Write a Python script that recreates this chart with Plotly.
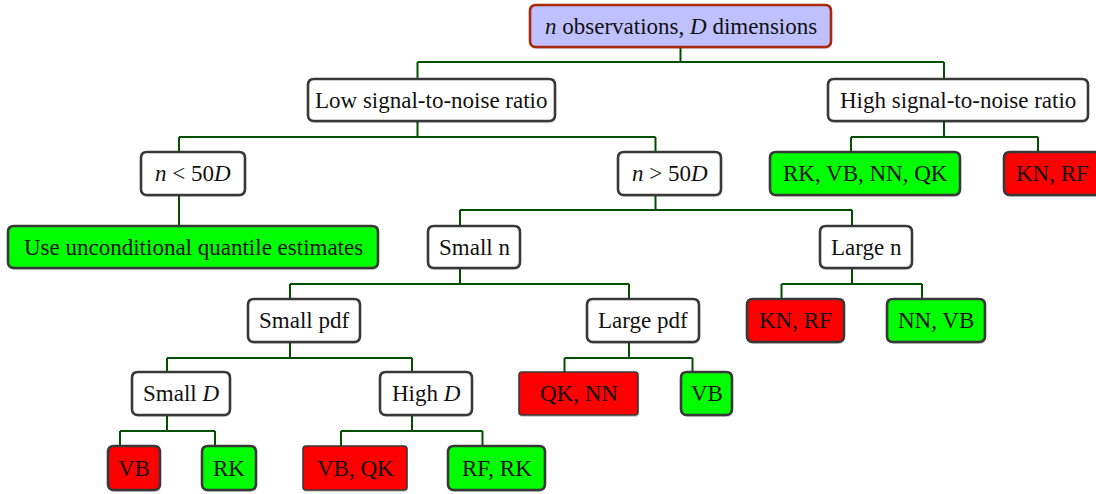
import plotly.graph_objects as go

# ---------------- data ----------------
node_label = [
    "<i>n</i> observations, <i>D</i> dimensions",
    "Low signal-to-noise ratio",
    "High signal-to-noise ratio",
    "<i>n</i> &lt; 50<i>D</i>",
    "<i>n</i> &gt; 50<i>D</i>",
    "RK, VB, NN, QK",
    "KN, RF",
    "Use unconditional quantile estimates",
    "Small n",
    "Large n",
    "Small pdf",
    "Large pdf",
    "KN, RF",
    "NN, VB",
    "Small <i>D</i>",
    "High <i>D</i>",
    "QK, NN",
    "VB",
    "VB",
    "RK",
    "VB, QK",
    "RF, RK",
]
node_parent = [None, 0, 0, 1, 1, 2, 2, 3, 4, 4, 8, 8, 9, 9, 10, 10, 11, 11, 14, 14, 15, 15]
node_verdict = ["root", "split", "split", "split", "split", "good", "bad", "good",
                "split", "split", "split", "split", "bad", "good", "split", "split",
                "bad", "good", "bad", "good", "bad", "good"]

# ---------------- layout (pixel geometry) ----------------
W, H = 1096, 494
box_left = [530, 308, 828, 141, 618, 770, 1004, 8, 428, 820, 248, 587, 747, 887,
            132, 380, 519, 681, 108, 202, 303, 448]
box_right = [831, 555, 1088, 245, 721, 960, 1100, 378, 520, 912, 360, 699, 844, 985,
             230, 472, 638, 732, 160, 256, 407, 545]
node_level = [0, 1, 1, 2, 2, 2, 2, 3, 3, 3, 4, 4, 4, 4, 5, 5, 5, 5, 6, 6, 6, 6]
level_top = [5, 79, 152, 226, 299, 372, 446]
level_bottom = [47, 121, 195, 268, 342, 415, 490]
bar_y = [62, 137, 210, 284, 358, 431]
anchor_shift = 14
thin_nodes = {16, 20}

fill_of = {"root": "#c0c0ff", "split": "#ffffff", "good": "#00ff00", "bad": "#ff0000"}
edge_color = "#005000"
border_color = "#383838"
root_border = "#a8280a"


def anchor_x(i):
    c = (box_left[i] + box_right[i]) / 2
    return c if node_parent[i] is None else c - anchor_shift


def rounded_rect(x0, y0, x1, y1, r):
    return (f"M {x0+r},{y0} L {x1-r},{y0} Q {x1},{y0} {x1},{y0+r} "
            f"L {x1},{y1-r} Q {x1},{y1} {x1-r},{y1} L {x0+r},{y1} "
            f"Q {x0},{y1} {x0},{y1-r} L {x0},{y0+r} Q {x0},{y0} {x0+r},{y0} Z")


fig = go.Figure()

# edges
ex, ey = [], []
n = len(node_label)
for p in range(n):
    kids = [k for k in range(n) if node_parent[k] == p]
    if not kids:
        continue
    px = anchor_x(p)
    by = bar_y[node_level[p]]
    ex += [px, px, None]
    ey += [level_bottom[node_level[p]], by, None]
    xs = [anchor_x(k) for k in kids] + [px]
    ex += [min(xs), max(xs), None]
    ey += [by, by, None]
    for k in kids:
        kx = anchor_x(k)
        ex += [kx, kx, None]
        ey += [by, level_top[node_level[k]], None]

fig.add_trace(go.Scatter(x=ex, y=ey, mode="lines",
                         line=dict(color=edge_color, width=2),
                         hoverinfo="skip", showlegend=False))

shapes = []
annotations = []
for i in range(n):
    x0, x1 = box_left[i], box_right[i]
    y0, y1 = level_top[node_level[i]], level_bottom[node_level[i]]
    thin = i in thin_nodes
    r = 3 if thin else 6
    shapes.append(dict(type="path", xref="x", yref="y",
                       path=rounded_rect(x0 + 0.5, y0 + 2, x1 + 0.5, y1 + 2, r),
                       fillcolor="rgba(0,0,0,0.18)", line=dict(width=0)))
    shapes.append(dict(type="path", xref="x", yref="y",
                       path=rounded_rect(x0, y0, x1, y1, r),
                       fillcolor=fill_of[node_verdict[i]],
                       line=dict(color=root_border if node_verdict[i] == "root" else border_color,
                                 width=1.6 if thin else 2.6)))
    annotations.append(dict(x=(x0 + x1) / 2, y=(y0 + y1) / 2, xref="x", yref="y",
                            text=node_label[i], showarrow=False,
                            font=dict(family="Liberation Serif", size=23, color="#111111"),
                            xanchor="center", yanchor="middle"))

fig.update_layout(
    width=W, height=H,
    margin=dict(l=0, r=0, t=0, b=0),
    paper_bgcolor="white", plot_bgcolor="white",
    xaxis=dict(range=[0, W], visible=False, fixedrange=True),
    yaxis=dict(range=[H, 0], visible=False, fixedrange=True),
    shapes=shapes, annotations=annotations,
    showlegend=False,
)

fig.write_html("out.html", config={"displayModeBar": False},
               post_script="document.body.style.margin='0';document.body.style.overflow='hidden';")
